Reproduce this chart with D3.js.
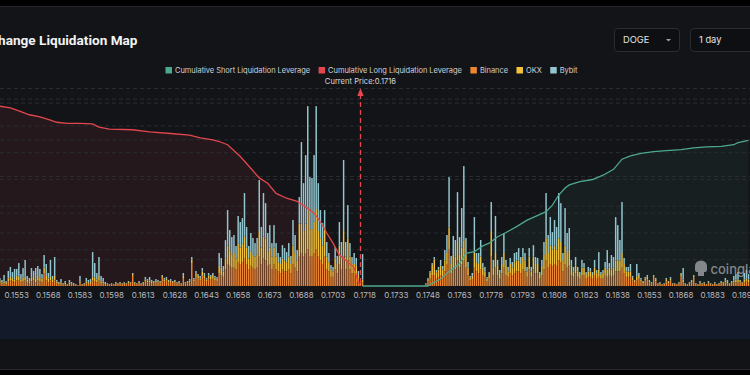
<!DOCTYPE html>
<html>
<head>
<meta charset="utf-8">
<script src="https://cdn.jsdelivr.net/npm/d3@7"></script>
<style>
  html, body { margin: 0; padding: 0; background: #000; }
  svg { display: block; font-family: Inter, "Noto Sans", sans-serif; }
</style>
</head>
<body>
<svg id="chart" width="750" height="375"></svg>
<script>
// price levels (one bar per 0.0001)
var priceStart = 0.1545, priceStep = 0.0001, priceCount = 356;
var prices = d3.range(priceCount).map(function(i){ return (priceStart + i * priceStep).toFixed(4); });

var xTickLabels = ["0.1553","0.1568","0.1583","0.1598","0.1613","0.1628","0.1643","0.1658","0.1673","0.1688",
  "0.1703","0.1718","0.1733","0.1748","0.1763","0.1778","0.1793","0.1808","0.1823","0.1838","0.1853","0.1868",
  "0.1883","0.1898"];

var currentPrice = "0.1716";

// liquidation leverage per price level (M)
var binance = [
  1.5,1.2,1.5,1,2.5,3,2.5,2,3,3,
  2,2.5,3,2,1.5,2.5,3,2,3,2.5,
  2,7,3,2,3,2,3,1.5,1,1.2,
  0.8,1,0.5,1,0.8,0.6,0.5,0.3,1.5,0.5,
  0.8,1.5,1,1.2,3,2.5,2,3,1.5,1.5,
  1,1,0.6,1,0.7,1.2,1,1.3,1,1.2,
  1,1.5,1.3,5.5,1.3,1,1.5,1,1.2,2.5,
  2,2,1.5,1.5,2,1.8,1.5,4.5,2.5,3,
  2,2.2,1.5,2,1.3,1.5,1,4,1.3,1.5,
  2,12.5,2.5,5,4,3,5.5,4,2.5,4,
  3.5,4,3,2.8,7,6,5,9,12,11,
  10,10,9,13,12,13,15,12,9,11,
  10,9,10,16,12,15,14,11,12,9,
  12,9,8,7,9,8,8,9,7,12,
  10,8,16,18,16,18,20,16,16,18,
  20,16,14,12,16,9,8,5,5,9,
  7,12,9,16,9,14,9,7,7,6,
  4,1.5,2,0,0,0,0,0,0,0,
  0,0,0,0,0,0,0,0,0,0,
  0,0,0,0,0,0,0,0,0,0,
  0,0,1,2.5,4,6,6,4,5,6,
  5,8,12,20,7,10,9,14,10,12,
  14,10,6,3,3.5,10,8,7,9,6,
  5,2.5,4,16,6,10,6,4,7,10,
  6,5,7,6,7,8,8,7,9,8,
  5,9,5,9,7,7,4,6,9,14,
  10,12,11,12,11,14,13,8,12,10,
  11,6,5,7,5,4,6,6,4,5,
  5,4,6,4,5,4,4,6,5,6,
  5,6,8,8,8,10,7,5,5,5,
  3,2,3,4,2.5,1.5,3,3.5,2,1.3,
  5,2.5,1,1.3,0.7,1,2.5,1.5,3,1,
  1,0.7,1.3,5.5,2,1,0.7,1.3,2,5,
  1,0.7,1.5,1,1.3,0.7,1.5,1,0.7,1.3,
  0.7,1,1.5,1.3,2,1.5,1,1.5,2,2,
  2,2,1.3,2,2.5,2
];
var okx = [
  1.5,0.8,1,0.7,1.7,2,2,1.5,2.5,2,
  1.5,2,2,1.5,1,2,2,2,2.5,2,
  2,3,2.5,2,2,1.5,2.5,1,0.6,0.8,
  0.4,0.7,0.3,0.8,0.6,0.4,0.3,0.1,1,0.3,
  0.4,1,0.8,1,2,2,1.5,2.5,1,1,
  0.6,0.3,0.3,0.3,0.2,0.5,0.3,0.5,0.3,0.6,
  0.3,0.7,0.5,1,0.5,0.3,0.6,0.3,0.5,1,
  1,1,0.8,0.6,0.8,0.7,0.6,1,1,1,
  0.7,0.8,0.6,0.7,0.5,0.6,0.3,1.5,0.5,0.6,
  1,2,1,2,1.5,1.2,2.5,1.5,1,1.8,
  1.5,2,1.5,1.2,4,4,3,6,10,8,
  7,8,6,10,9,10,12,9,6,8,
  7,7,7,14,9,12,12,8,9,7,
  9,7,5,5,6,6,5,7,5,10,
  8,6,18,16,14,16,22,15,15,17,
  22,14,12,10,16,7,5,4,3,6,
  5,10,7,14,7,12,7,5,5,5,
  2,0.7,1.5,0,0,0,0,0,0,0,
  0,0,0,0,0,0,0,0,0,0,
  0,0,0,0,0,0,0,0,0,0,
  0,0,0.4,1.5,3.5,5.5,8.5,3.5,4,5,
  4,6,6,12,5,7,7,10,7,9,
  11,7,4,1.5,2,8,5,5,7,4,
  3,1.5,2,14,4,8,5,3,5,8,
  5,3,5,4,6,6,6,5,7,6,
  3,7,3,7,5,5,2,5,8,12,
  8,10,9,10,9,12,11,6,10,8,
  9,5,3,4,3,2,4,4,2,3,
  3,2,4,3,4,2,3,4,4,4,
  4,4,6,6,6,8,5,3,3,3,
  1.5,0.8,2,2,1,0.7,1,1.5,0.8,0.5,
  0.5,1.2,0.3,0.5,0.2,0.3,1.2,0.7,1,0.3,
  0.3,0.2,0.5,1,1.5,0.3,0.2,0.5,0.8,0.5,
  0.3,0.2,0.6,0.3,0.5,0.2,0.6,0.3,0.2,0.5,
  0.2,0.3,0.6,0.5,1,0.8,0.3,0.6,1,1.5,
  1.5,0.7,0.5,1.5,1.5,1.5
];
var bybit = [
  1.4,1.3,3.5,1,4,5.4,3.1,5.8,3.8,7.5,
  3,5.3,9.2,2,1.9,5.3,3.2,5.8,5.4,4.8,
  2.5,6.9,6.5,3.1,9.2,2,10.3,0.8,0.6,1.8,
  0.4,1,0.3,1.5,0.8,0.6,0.3,0.1,3,0.3,
  0.4,1.9,1.5,1.6,13.5,8,3.6,10.3,3,1.9,
  0.6,0.3,0.2,0.3,0.2,0.5,0.3,0.4,0.3,0.4,
  0.3,0.5,0.4,0.6,0.4,0.3,0.6,0.3,0.5,1.4,
  0.8,1.9,1,0.6,1,0.8,0.6,0.5,0.9,0.9,
  0.6,0.8,0.6,0.6,0.4,0.6,0.3,1.6,0.4,0.6,
  0.8,1.3,0.9,1.2,1,1.3,1.8,1.6,0.9,1.3,
  1,1.1,1,0.9,7,5.3,2.9,10,19.4,11.5,
  9.7,9.8,6.8,15.2,13.9,14,23.7,11.2,6.8,9.9,
  9.2,7.4,9.2,27.8,11.2,23.7,19.2,9.9,12.2,7.4,
  12.2,7.4,5,3.8,7.3,6.7,5.5,7.4,4.4,14,
  9.8,5.6,14.5,44.5,26.1,37.4,56.1,28.4,27.9,36.4,
  56.1,26.1,15.4,12.3,9.4,8,5,2.4,2.4,6.3,
  4.4,12.9,8,38.7,8,18.1,7.4,3.8,6,4.3,
  2.2,0.5,13.9,0,0,0,0,0,0,0,
  0,0,0,0,0,0,0,0,0,0,
  0,0,0,0,0,0,0,0,0,0,
  0,0,0.2,0.4,0.7,1,1.3,1.2,1.4,3.2,
  1.9,5.6,9.8,27.4,4.4,10.3,9.1,27.2,9.7,21.5,
  40.4,9.2,3.1,1,1.6,19.6,5,6,9.1,2.5,
  2.4,0.9,1.6,15.8,4.2,20.2,3.2,1.7,3.8,10.9,
  3.2,2.4,3.3,3.1,5,4.5,6.7,3.8,4.7,4,
  2.4,4.7,2.4,6.3,3.8,3.3,1.6,3.2,7,24.7,
  9.8,15.6,9.4,14,12.2,24.7,21.2,4,20.5,10.9,
  11.6,3.2,2.4,4.8,2.4,1.6,4.2,2.5,1.6,2.4,
  1.8,1.6,4.2,1.7,9.5,1.6,1.7,3.1,10.6,2.5,
  7.9,5.8,23.6,19.2,11.1,27.8,3.3,2.4,2.4,4,
  1,0.5,7,1.1,0.9,0.5,0.9,1,0.5,0.4,
  0.5,0.7,0.3,0.4,0.2,0.3,0.7,0.5,0.9,0.3,
  0.3,0.2,0.4,0.6,6.3,0.3,0.2,0.4,0.5,0.5,
  0.3,0.2,0.6,0.3,0.4,0.2,0.6,0.3,0.2,0.4,
  0.2,0.3,0.6,0.4,1.4,1,0.3,0.6,2.5,3,
  4.1,0.6,0.4,3.6,4.7,3
];

// cumulative long (left of current price) and short (right of it), M
var longCumPrices = ["0.1545","0.1550","0.1555","0.1559","0.1564","0.1569","0.1572","0.1577","0.1583","0.1589",
  "0.1592","0.1597","0.1608","0.1616","0.1626","0.1635","0.1640","0.1646","0.1649","0.1653","0.1659","0.1664",
  "0.1668","0.1672","0.1676","0.1681","0.1686","0.1691","0.1694","0.1697","0.1700","0.1703","0.1706","0.1710",
  "0.1713","0.1715","0.1716"];
var longCumValues = [336,333,326,320,316,310,306,304,304,303,297,293,292,288,285,282,277,273,270,264,242,220,
  202,192,173,164,158,145,136,120,99,80,58,45,34,6,0];

var shortCumPrices = ["0.1717","0.1748","0.1750","0.1754","0.1758","0.1763","0.1766","0.1770","0.1774","0.1777",
  "0.1781","0.1785","0.1790","0.1795","0.1799","0.1804","0.1807","0.1810","0.1813","0.1815","0.1820","0.1826",
  "0.1831","0.1836","0.1840","0.1844","0.1849","0.1855","0.1861","0.1868","0.1874","0.1880","0.1887","0.1893",
  "0.1895","0.1900"];
var shortCumValues = [0,0,5,13,27,42,61,64,75,80,92,100,111,123,130,139,151,170,183,189,195,199,207,218,237,
  243,248,251,253,255,258,260,261,264,268,272];

var leftTicks = [20, 40, 60, 80, 100];
var rightTicks = [50, 100, 150, 200, 250, 300, 350];

var seriesKeys = ["binance", "okx", "bybit"];
var legendItems = [
  {name: "Cumulative Short Liquidation Leverage", color: "#4ea88d"},
  {name: "Cumulative Long Liquidation Leverage", color: "#e2464f"},
  {name: "Binance", color: "#ec8531"},
  {name: "OKX", color: "#f2c23a"},
  {name: "Bybit", color: "#93c6cf"}
];
var seriesColors = {binance: "#ec8531", okx: "#f2c23a", bybit: "#93c6cf"};

if (binance.length != priceCount || okx.length != priceCount || bybit.length != priceCount) {
  throw new Error("length " + binance.length + " " + okx.length + " " + bybit.length);
}

var svg = d3.select("#chart");
var W = 750, H = 375;
var plotTop = 88, plotBottom = 286;

// page frame
svg.append("rect").attr("width", W).attr("height", H).attr("fill", "#000");
svg.append("rect").attr("x", 0).attr("y", 7).attr("width", W).attr("height", 362).attr("fill", "#131418");
svg.append("line").attr("x1", 0).attr("x2", W).attr("y1", 6.5).attr("y2", 6.5).attr("stroke", "#25272b");
svg.append("line").attr("x1", 0).attr("x2", W).attr("y1", 369.5).attr("y2", 369.5).attr("stroke", "#25272b");
// slider band under axis
svg.append("rect").attr("x", 0).attr("y", 299).attr("width", W).attr("height", 40).attr("fill", "#131a2a");
svg.append("rect").attr("x", 0).attr("y", 339).attr("width", W).attr("height", 30).attr("fill", "#111317");

// title (left part cut by the window)
svg.append("text")
  .attr("x", 137.5).attr("y", 44.5)
  .attr("text-anchor", "end")
  .attr("fill", "#f2f2f2")
  .attr("font-family", "Roboto, Inter, sans-serif")
  .attr("font-size", 13.6).attr("font-weight", 700)
  .text("Exchange Liquidation Map");

// dropdowns
function dropdown(x, w, label, caret){
  svg.append("rect").attr("x", x).attr("y", 28.5).attr("width", w).attr("height", 23).attr("rx", 3.5)
    .attr("fill", "#0e0f12").attr("stroke", "#2a2c31");
  svg.append("text").attr("x", x + 8.5).attr("y", 43.3).attr("fill", "#e4e4e4").attr("font-size", 9.3).text(label);
  if (caret) {
    svg.append("path").attr("d", "M" + (x + 51.5) + ",39 l5,0 l-2.5,2.6 z").attr("fill", "#9b9ea3");
  }
}
dropdown(614.5, 65, "DOGE", true);
dropdown(690.5, 80, "1 day", false);

// legend
var lx = 165.5;
legendItems.forEach(function(d){
  svg.append("rect").attr("x", lx).attr("y", 67).attr("width", 6.5).attr("height", 6.5).attr("fill", d.color);
  var t = svg.append("text").attr("x", lx + 9.5).attr("y", 73.3).attr("fill", "#cfd1d5")
    .attr("font-size", 7.5).attr("letter-spacing", -0.05).text(d.name);
  lx += 9.5 + t.node().getComputedTextLength() + 8.5;
});

// scales
var x = d3.scaleBand().domain(prices).range([-1.22, 749.6]).paddingInner(0.3).paddingOuter(0.15);
var yLeft = d3.scaleLinear().domain([0, 108]).range([plotBottom, plotTop]);
var yRight = d3.scaleLinear().domain([0, 370]).range([plotBottom, plotTop]);
function cx(p){ return x(p) + x.bandwidth() / 2; }

var longData = longCumPrices.map(function(p, i){ return {p: p, v: longCumValues[i]}; });
var shortData = shortCumPrices.map(function(p, i){ return {p: p, v: shortCumValues[i]}; });

var area = d3.area().x(function(d){ return cx(d.p); }).y0(plotBottom).y1(function(d){ return yRight(d.v); });
var line = d3.line().x(function(d){ return cx(d.p); }).y(function(d){ return yRight(d.v); });

// extend long area to the left edge
svg.append("path").datum(longData).attr("d", area).attr("fill", "rgba(226,70,79,0.085)");
svg.append("rect").attr("x", -2).attr("y", yRight(longCumValues[0])).attr("width", 2)
  .attr("height", plotBottom - yRight(longCumValues[0])).attr("fill", "rgba(226,70,79,0.085)");
svg.append("path").datum(shortData).attr("d", area).attr("fill", "rgba(78,168,141,0.08)");

// grid lines (two axes)
function grid(scale, ticks){
  var g = svg.append("g")
    .call(d3.axisLeft(scale).tickValues(ticks).tickSize(-W).tickFormat(""));
  g.select(".domain").remove();
  g.selectAll("line").attr("stroke", "#2a2c31").attr("stroke-dasharray", "4,3");
}
grid(yLeft, leftTicks);
grid(yRight, rightTicks);
svg.append("line").attr("x1", 0).attr("x2", W).attr("y1", plotTop + 0.5).attr("y2", plotTop + 0.5)
  .attr("stroke", "#2a2c31").attr("stroke-dasharray", "4,3");

// stacked bars
var rows = prices.map(function(p, i){ return {price: p, binance: binance[i], okx: okx[i], bybit: bybit[i]}; });
var stacked = d3.stack().keys(seriesKeys)(rows);

svg.append("g").selectAll("g")
  .data(stacked)
  .enter().append("g")
    .attr("fill", function(s){ return seriesColors[s.key]; })
  .selectAll("rect")
  .data(function(s){ return s; })
  .enter().append("rect")
    .attr("x", function(d){ return x(d.data.price); })
    .attr("width", x.bandwidth())
    .attr("y", function(d){ return yLeft(d[1]); })
    .attr("height", function(d){ return Math.max(0, yLeft(d[0]) - yLeft(d[1])); });

// cumulative lines
svg.append("path").datum(longData).attr("d", line).attr("fill", "none")
  .attr("stroke", "#e2464f").attr("stroke-width", 1.3);
svg.append("path").datum(shortData).attr("d", line).attr("fill", "none")
  .attr("stroke", "#4ea88d").attr("stroke-width", 1.3);

// current price marker
var cpx = cx(currentPrice);
svg.append("line").attr("x1", cpx).attr("x2", cpx).attr("y1", plotTop + 6).attr("y2", plotBottom)
  .attr("stroke", "#e2464f").attr("stroke-width", 1.3).attr("stroke-dasharray", "5,3");
svg.append("path").attr("d", "M" + cpx + "," + plotTop + " l3.2,8 l-6.4,0 z").attr("fill", "#e2464f");
svg.append("text").attr("x", cpx).attr("y", 83.5).attr("text-anchor", "middle")
  .attr("fill", "#d6d8dc").attr("font-size", 7.6).text("Current Price:" + currentPrice);

// x axis
var xAxis = svg.append("g").attr("transform", "translate(0," + plotBottom + ")")
  .call(d3.axisBottom(x).tickValues(xTickLabels).tickSize(0).tickPadding(6));
xAxis.select(".domain").remove();
xAxis.selectAll("text").attr("fill", "#b8bbc1").attr("font-size", 8)
  .attr("font-family", "Inter, 'Noto Sans', sans-serif");

// watermark
var wm = svg.append("g").attr("opacity", 0.75).attr("fill", "#a7aaaf");
wm.append("path").attr("d", "M695,266 a6,5.5 0 0 1 12,0 l0,4 a2,2 0 0 1 -2,2 l-1,0 l0,4 l-6,0 l0,-4 l-1,0 a2,2 0 0 1 -2,-2 z");
wm.append("text").attr("x", 710.5).attr("y", 273.5).attr("font-size", 13).attr("font-weight", 500).text("coinglass");
</script>
</body>
</html>
